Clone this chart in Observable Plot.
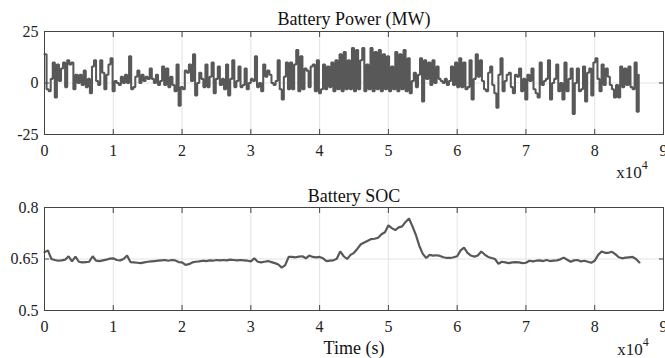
<!DOCTYPE html>
<html><head><meta charset="utf-8">
<script src="https://cdn.jsdelivr.net/npm/d3@7"></script>
<script src="https://cdn.jsdelivr.net/npm/@observablehq/plot@0.6"></script>
<style>
body{margin:0;background:#fff;}
#chart{width:665px;height:358px;}
svg{display:block;overflow:visible;}
</style></head><body><div id="chart"></div>
<script>
// Battery power (MW), sampled every 300 s from 0 to 86400 s
const powerStep = 300;
const powerMW = [
14,-3,-4,2,10,-7,9,1,7,10,-2,11,9,10,-3,4,0,4,-1,6,-2,2,-5,8,11,1,-1,11,5,-3,4,9,12,-4,
1,0,-1,3,0,4,0,13,-3,-2,3,6,0,4,1,3,
2,7,2,0,4,-1,1,8,-1,7,-2,3,-1,-4,9,-11,-2,-3,6,5,9,1,14,-6,0,5,2,-2,9,-2,3,10,-5,2,8,-1,2,-3,9,-6,2,11,-2,1,8,-2,-1,7,-3,0,
2,1,13,-2,0,-4,9,3,6,4,0,-1,1,11,-3,-8,3,10,-3,10,-3,9,16,-4,13,-3,7,6,-2,8,9,-4,11,-5,-3,9,-3,8,-2,10,-4,11,-3,14,-4,15,-3,11,-3,17,
-4,16,-3,11,17,-4,9,-3,17,-4,15,-3,16,-4,14,-3,13,-4,8,-3,15,-4,14,-3,16,-4,12,-5,1,5,-2,4,12,-9,11,2,10,-1,11,0,8,2,1,0,2,-1,1,8,-1,10,
-2,12,-2,10,-3,-2,11,-8,2,14,3,11,1,-3,-4,5,8,-1,-5,-12,4,12,-4,1,4,5,-2,-5,4,3,7,-4,2,-8,4,1,7,-3,-5,-7,10,-1,1,2,11,-8,0,2,9,-4,0,-8,10,
-4,2,7,-15,0,7,-4,-3,8,-9,5,7,-6,10,12,2,-4,9,-1,7,3,-1,-3,-7,-1,-7,8,-2,7,-1,8,-2,-3,10,-14,4
];
// Battery state of charge, sampled every 500 s from 0 to 86500 s
const socStep = 500;
const soc = [
0.67,0.675,0.65,0.647,0.645,0.646,0.648,0.658,0.643,0.657,0.642,0.64,0.641,0.642,0.658,0.645,0.644,0.646,0.648,0.651,
0.652,0.647,0.646,0.65,0.66,0.641,0.64,0.639,0.638,0.64,0.642,0.643,0.644,0.645,0.646,0.647,0.645,0.647,0.646,0.641,
0.64,0.633,0.635,0.64,0.642,0.643,0.645,0.644,0.646,0.645,0.647,0.646,0.647,0.646,0.648,0.647,0.646,0.647,0.646,0.645,
0.643,0.652,0.642,0.64,0.642,0.644,0.641,0.638,0.634,0.625,0.632,0.656,0.656,0.655,0.657,0.658,0.652,0.66,0.656,0.655,
0.656,0.652,0.644,0.645,0.646,0.651,0.672,0.658,0.65,0.662,0.668,0.68,0.693,0.698,0.703,0.708,0.709,0.712,0.722,0.728,
0.748,0.74,0.734,0.742,0.745,0.758,0.768,0.745,0.72,0.688,0.665,0.653,0.662,0.66,0.661,0.659,0.655,0.653,0.653,0.655,
0.658,0.675,0.683,0.668,0.66,0.657,0.66,0.672,0.663,0.656,0.653,0.65,0.636,0.642,0.64,0.638,0.64,0.641,0.64,0.638,
0.639,0.645,0.643,0.645,0.646,0.644,0.647,0.644,0.645,0.646,0.649,0.654,0.648,0.642,0.646,0.647,0.643,0.645,0.642,0.639,
0.645,0.662,0.672,0.668,0.668,0.671,0.664,0.655,0.652,0.654,0.655,0.656,0.65,0.64
];
const xTicks = [0,10000,20000,30000,40000,50000,60000,70000,80000,90000];
const powerTicks = [-25,0,25];
const socTicks = [0.5,0.65,0.8];
const powerTitle = "Battery Power (MW)";
const socTitle = "Battery SOC";
const xLabel = "Time (s)";

const powerData = powerMW.map((v,i)=>({t:i*powerStep, v}));
const socData = soc.map((v,i)=>({t:i*socStep, v}));

const FONT = "'Liberation Serif','Times New Roman',serif";
const LINE = "#585858", GRID = "#e3e3e3", FRAME = "#444";

function panel({data, yDomain, yTicks, height, marginTop, marginBottom, title, titleDy, xlabel, strokeWidth, curve}) {
  const marks = [
    Plot.gridX(xTicks.slice(1,-1), {stroke: GRID, strokeOpacity: 1}),
    Plot.gridY([yTicks[1]], {stroke: GRID, strokeOpacity: 1}),
    Plot.line(data, {x: "t", y: "v", stroke: LINE, strokeWidth, curve, strokeLinejoin: "miter"}),
    Plot.frame({stroke: FRAME}),
    Plot.axisX(xTicks, {anchor: "bottom", tickSize: 0, tickPadding: 10, tickFormat: d => String(d/1e4), label: null, fill: "#222"}),
    Plot.axisX(xTicks, {anchor: "bottom", tickSize: -5, tickFormat: () => "", label: null, stroke: FRAME}),
    Plot.axisX(xTicks, {anchor: "top", tickSize: -5, tickFormat: () => "", label: null, stroke: FRAME}),
    Plot.axisY(yTicks, {anchor: "left", tickSize: 0, tickPadding: 6, tickFormat: d => String(d), label: null, fill: "#222"}),
    Plot.axisY(yTicks, {anchor: "left", tickSize: -5, tickFormat: () => "", label: null, stroke: FRAME}),
    Plot.axisY(yTicks, {anchor: "right", tickSize: -5, tickFormat: () => "", label: null, stroke: FRAME}),
    Plot.text([title], {frameAnchor: "top", dy: titleDy, lineAnchor: "bottom", fill: "#111", fontSize: 18})
  ];
  if (xlabel) marks.push(Plot.text([xlabel], {frameAnchor: "bottom", dy: 43, lineAnchor: "bottom", fill: "#111", fontSize: 18}));
  return Plot.plot({
    width: 665, height, marginLeft: 44, marginRight: 2, marginTop, marginBottom,
    x: {domain: [0, 90000], label: null},
    y: {domain: yDomain, label: null},
    style: {fontFamily: FONT, fontSize: "16px", background: "white", color: "#222"},
    marks
  });
}

function addExponent(svg, x, y) {
  const t = d3.select(svg).append("text")
    .attr("x", x).attr("y", y)
    .attr("font-family", FONT).attr("font-size", 17).attr("fill", "#222");
  t.append("tspan").text("x10");
  t.append("tspan").attr("dy", -9).attr("font-size", 12).text("4");
}

const powerSvg = panel({data: powerData, yDomain: [-25, 25], yTicks: powerTicks, height: 180, marginTop: 31, marginBottom: 46, title: powerTitle, titleDy: -7, strokeWidth: 2.05, curve: "step-after"});
addExponent(powerSvg, 632, 178);
const socSvg = panel({data: socData, yDomain: [0.5, 0.8], yTicks: socTicks, height: 178, marginTop: 27, marginBottom: 48, title: socTitle, titleDy: -6, xlabel: xLabel, strokeWidth: 2.2, curve: "linear"});
addExponent(socSvg, 633, 175);
document.getElementById("chart").append(powerSvg, socSvg);
</script></body></html>
